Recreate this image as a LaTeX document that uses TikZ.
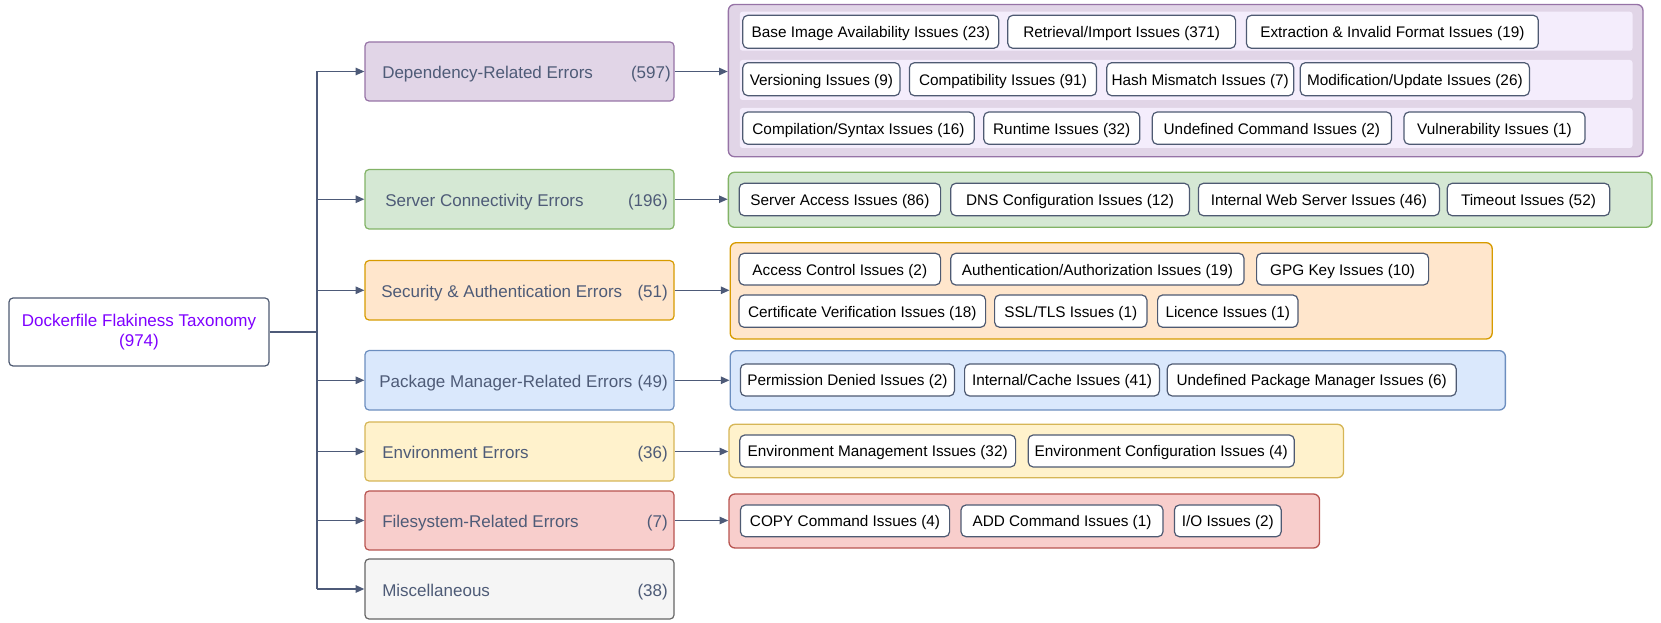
\documentclass[tikz,border=0pt]{standalone}
\usepackage{fontspec}
\setmainfont{Liberation Sans}
\usetikzlibrary{arrows.meta}

\definecolor{linec}{HTML}{4D5A78}
\definecolor{cattext}{HTML}{4E5B77}
\definecolor{issueline}{HTML}{4E5A72}
\definecolor{roottext}{HTML}{7F00FF}
\definecolor{depfill}{HTML}{E1D5E7}\definecolor{depline}{HTML}{9673A6}
\definecolor{bandfill}{HTML}{F4EDFC}
\definecolor{srvfill}{HTML}{D5E8D4}\definecolor{srvline}{HTML}{82B366}
\definecolor{secfill}{HTML}{FFE6CC}\definecolor{secline}{HTML}{D79B00}
\definecolor{pmfill}{HTML}{DAE8FC}\definecolor{pmline}{HTML}{6C8EBF}
\definecolor{envfill}{HTML}{FFF2CC}\definecolor{envline}{HTML}{D6B656}
\definecolor{fsfill}{HTML}{F8CECC}\definecolor{fsline}{HTML}{B85450}
\definecolor{miscfill}{HTML}{F5F5F5}\definecolor{miscline}{HTML}{666666}

\newcommand\issuefont{\fontsize{11.5}{13.8}\selectfont}
\newcommand\catfont{\fontsize{12.75}{15}\selectfont}

% box node given by its corners: style, name, x1, x2, y1, y2, text
\newcommand\boxnode[7]{%
  \node[#1, minimum width={(#4-#3)*0.75pt}, minimum height={(#6-#5)*0.75pt}]
    (#2) at ({(#3+#4)/2},{(#5+#6)/2}) {#7};}

\begin{document}
\begin{tikzpicture}[x=0.75pt, y=-0.75pt,
  conn/.style={draw=linec, line width=1.1pt},
  arr/.style={conn, -{Triangle[length=6.5pt,width=5.5pt]}},
  rootbox/.style={rectangle, rounded corners=3pt, draw=issueline, fill=white,
    line width=0.9pt, inner sep=0pt, align=center, text=roottext,
    font=\fontsize{12.75}{15}\selectfont},
  catbox/.style={rectangle, rounded corners=3pt, line width=0.9pt, inner sep=0pt},
  grp/.style={rectangle, rounded corners=4.5pt, line width=1pt, inner sep=0pt},
  band/.style={rectangle, rounded corners=2pt, fill=bandfill, inner sep=0pt},
  issuebox/.style={rectangle, rounded corners=3.75pt, draw=issueline, fill=white,
    line width=0.9pt, inner sep=0pt, font=\issuefont, text=black,
    text height=9pt, text depth=0pt},
  catlabel/.style={font=\catfont, text=cattext, inner sep=0pt, anchor=base west},
  catcount/.style={font=\catfont, text=cattext, inner sep=0pt, anchor=base east}]

\useasboundingbox (0,0) rectangle (1661,623);

% root
\boxnode{rootbox}{root}{9}{269}{298}{366}{Dockerfile Flakiness Taxonomy\\(974)}

% categories
\boxnode{catbox, fill=depfill, draw=depline}{dep}{365}{674}{42}{101}{}
\boxnode{catbox, fill=srvfill, draw=srvline}{srv}{365}{674}{169.5}{229}{}
\boxnode{catbox, fill=secfill, draw=secline}{sec}{365}{674}{260.6}{320}{}
\boxnode{catbox, fill=pmfill, draw=pmline}{pm}{365}{674}{350.6}{410}{}
\boxnode{catbox, fill=envfill, draw=envline}{env}{365}{674}{422}{481}{}
\boxnode{catbox, fill=fsfill, draw=fsline}{fs}{365}{674}{491}{550}{}
\boxnode{catbox, fill=miscfill, draw=miscline}{misc}{365}{674}{559}{619}{}

\node[catlabel] (depL) at (382,78.5) {Dependency-Related Errors};
\node[catcount] (depN) at (671,78.5) {(597)};
\node[catlabel] (srvL) at (385,206.3) {Server Connectivity Errors};
\node[catcount] (srvN) at (668,206.3) {(196)};
\node[catlabel] (secL) at (381,297.3) {Security \& Authentication Errors};
\node[catcount] (secN) at (668,297.3) {(51)};
\node[catlabel] (pmL) at (379,387.3) {Package Manager-Related Errors};
\node[catcount] (pmN) at (668,387.3) {(49)};
\node[catlabel] (envL) at (382,458.5) {Environment Errors};
\node[catcount] (envN) at (668,458.5) {(36)};
\node[catlabel] (fsL) at (382,527.5) {Filesystem-Related Errors};
\node[catcount] (fsN) at (668,527.5) {(7)};
\node[catlabel] (miscL) at (382,596) {Miscellaneous};
\node[catcount] (miscN) at (668,596) {(38)};

% trunk from the root to every category
\coordinate (tr) at (317,332);
\draw[conn] (root.east) -- (tr);
\draw[conn] (tr |- dep.west) -- (tr |- misc.west);
\foreach \c in {dep,srv,sec,pm,env,fs,misc}
  \draw[arr] (tr |- \c.west) -- (\c.west);

% dependency group
\boxnode{grp, fill=depfill, draw=depline}{depgrp}{728.4}{1643}{4.5}{156.7}{}
\boxnode{band}{band1}{739.8}{1632.5}{11.7}{50.7}{}
\boxnode{band}{band2}{739.8}{1632.5}{60}{100}{}
\boxnode{band}{band3}{739.8}{1632.5}{108}{148}{}
\boxnode{issuebox}{d1}{742.8}{998.8}{15.3}{48.3}{Base Image Availability Issues (23)}
\boxnode{issuebox}{d2}{1007.8}{1235.6}{15.3}{48.3}{Retrieval/Import Issues (371)}
\boxnode{issuebox}{d3}{1246.4}{1538.3}{15.3}{48.3}{Extraction \& Invalid Format Issues (19)}
\boxnode{issuebox}{d4}{742.8}{899.9}{62.7}{95.7}{Versioning Issues (9)}
\boxnode{issuebox}{d5}{909.4}{1096.5}{62.7}{95.7}{Compatibility Issues (91)}
\boxnode{issuebox}{d6}{1106.7}{1293.7}{62.7}{95.7}{Hash Mismatch Issues (7)}
\boxnode{issuebox}{d7}{1300.3}{1529.4}{62.7}{95.7}{Modification/Update Issues (26)}
\boxnode{issuebox}{d8}{742.8}{974.2}{112}{144.3}{Compilation/Syntax Issues (16)}
\boxnode{issuebox}{d9}{983.8}{1139.7}{112}{144.3}{Runtime Issues (32)}
\boxnode{issuebox}{d10}{1152.3}{1391.5}{112}{144.3}{Undefined Command Issues (2)}
\boxnode{issuebox}{d11}{1404}{1585}{112}{144.3}{Vulnerability Issues (1)}

% server connectivity group
\boxnode{grp, fill=srvfill, draw=srvline}{srvgrp}{728.4}{1652}{172.3}{227.3}{}
\boxnode{issuebox}{s1}{739.2}{940.6}{183.3}{215.7}{Server Access Issues (86)}
\boxnode{issuebox}{s2}{950.8}{1189.4}{183.3}{215.7}{DNS Configuration Issues (12)}
\boxnode{issuebox}{s3}{1198.4}{1439.4}{183.3}{215.7}{Internal Web Server Issues (46)}
\boxnode{issuebox}{s4}{1447.2}{1609.7}{183.3}{215.7}{Timeout Issues (52)}

% security group
\boxnode{grp, fill=secfill, draw=secline}{secgrp}{730.2}{1492.2}{242.7}{339}{}
\boxnode{issuebox}{a1}{739}{940.6}{253.3}{285}{Access Control Issues (2)}
\boxnode{issuebox}{a2}{950.8}{1244}{253.3}{285}{Authentication/Authorization Issues (19)}
\boxnode{issuebox}{a3}{1256.6}{1428.6}{253.3}{285}{GPG Key Issues (10)}
\boxnode{issuebox}{a4}{739}{985.6}{295}{327.3}{Certificate Verification Issues (18)}
\boxnode{issuebox}{a5}{994.6}{1146.9}{295}{327.3}{SSL/TLS Issues (1)}
\boxnode{issuebox}{a6}{1157.6}{1297.9}{295}{327.3}{Licence Issues (1)}

% package manager group
\boxnode{grp, fill=pmfill, draw=pmline}{pmgrp}{730.2}{1505.4}{350.7}{410}{}
\boxnode{issuebox}{p1}{740.4}{954.4}{364}{396}{Permission Denied Issues (2)}
\boxnode{issuebox}{p2}{964.6}{1159.4}{364}{396}{Internal/Cache Issues (41)}
\boxnode{issuebox}{p3}{1167.2}{1456.2}{364}{396}{Undefined Package Manager Issues (6)}

% environment group
\boxnode{grp, fill=envfill, draw=envline}{envgrp}{729}{1343.5}{424.3}{477.7}{}
\boxnode{issuebox}{e1}{739.8}{1015.6}{435}{467}{Environment Management Issues (32)}
\boxnode{issuebox}{e2}{1028.2}{1294.3}{435}{467}{Environment Configuration Issues (4)}

% filesystem group
\boxnode{grp, fill=fsfill, draw=fsline}{fsgrp}{729}{1319.5}{494}{548}{}
\boxnode{issuebox}{f1}{740.4}{949.6}{505}{536.7}{COPY Command Issues (4)}
\boxnode{issuebox}{f2}{961}{1163}{505}{536.7}{ADD Command Issues (1)}
\boxnode{issuebox}{f3}{1174.4}{1281.2}{505}{536.7}{I/O Issues (2)}

% category to group connectors
\draw[arr] (dep.east) -- (depgrp.west |- dep.east);
\draw[arr] (srv.east) -- (srvgrp.west |- srv.east);
\draw[arr] (sec.east) -- (secgrp.west |- sec.east);
\draw[arr] (pm.east) -- (pmgrp.west |- pm.east);
\draw[arr] (env.east) -- (envgrp.west |- env.east);
\draw[arr] (fs.east) -- (fsgrp.west |- fs.east);

\end{tikzpicture}
\end{document}
